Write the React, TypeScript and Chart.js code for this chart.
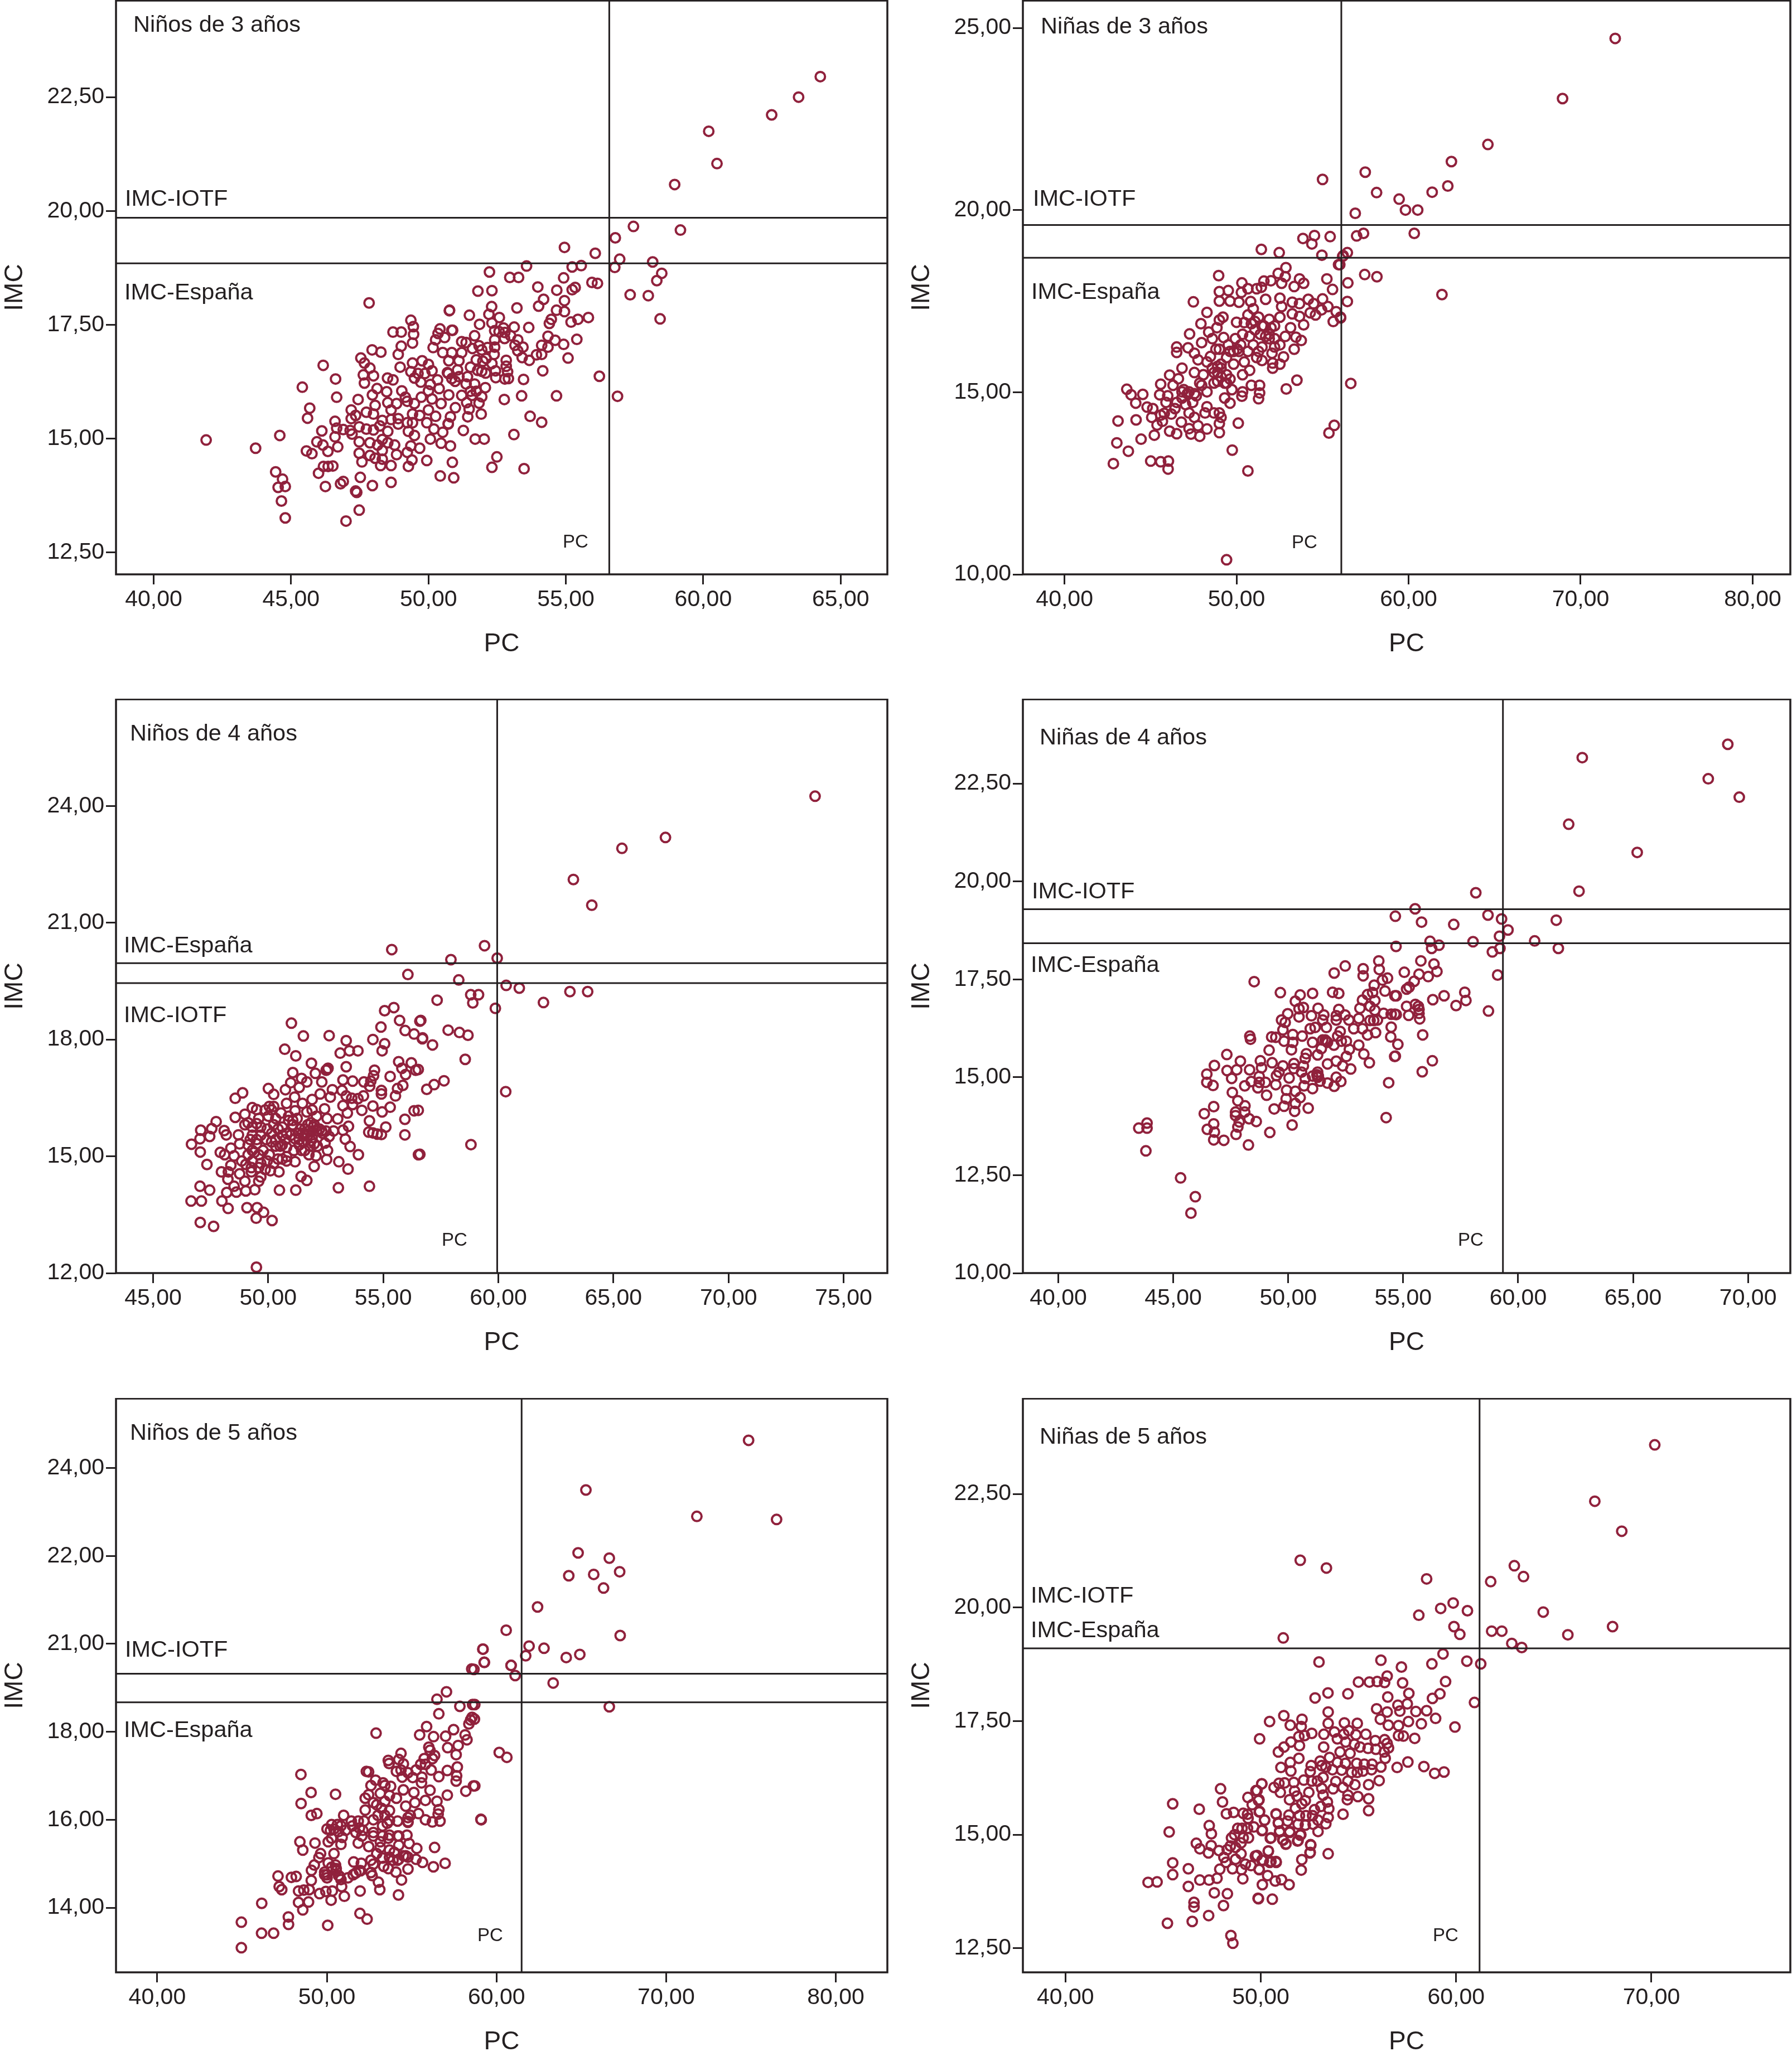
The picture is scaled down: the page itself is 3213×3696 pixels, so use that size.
import React, { useEffect, useRef } from "react";
import { Chart, registerables } from "chart.js";

Chart.register(...registerables);

const boys3: number[][] = [
[64.26,22.95],[63.47,22.5],[62.49,22.11],[60.2,21.75],[60.5,21.04],[58.96,20.58],[57.46,19.66],[59.17,19.58],[56.8,19.41],[56.07,19.07],[54.95,19.2],[56.96,18.94],[56.78,18.76],[58.16,18.88],[58.49,18.63],[58.31,18.47],[57.34,18.16],[58,18.14],[58.43,17.63],[55.56,18.8],[55.23,18.77],[53.57,18.79],[52.22,18.66],[52.96,18.54],[53.28,18.54],[54.92,18.53],[55.95,18.43],[56.15,18.41],[53.98,18.33],[54.67,18.26],[55.34,18.32],[55.23,18.27],[51.8,18.24],[52.31,18.25],[54.19,18.06],[54.01,17.91],[54.95,18.03],[52.3,17.9],[53.22,17.87],[50.77,17.82],[54.66,17.82],[54.95,17.79],[51.49,17.71],[52.2,17.73],[52.58,17.66],[54.47,17.62],[54.4,17.53],[55.19,17.56],[55.44,17.62],[55.82,17.66],[51.86,17.51],[52.31,17.54],[53.65,17.44],[53.12,17.45],[52.73,17.43],[50.88,17.38],[52.41,17.37],[52.57,17.35],[52.78,17.33],[51.68,17.26],[52.99,17.26],[54.35,17.25],[54.61,17.16],[55.4,17.18],[54.92,17.07],[53.25,17.17],[52.77,17.2],[52.41,17.17],[51.21,17.13],[51.37,17.11],[51.84,17.04],[53.15,17.05],[53.44,17.01],[54.12,17.05],[54.35,17.01],[52.41,17.01],[52.15,17],[51.6,16.98],[51.94,16.95],[53.25,16.93],[51.21,16.89],[50.85,16.89],[52.39,16.85],[53.93,16.84],[54.12,16.85],[53.41,16.78],[55.08,16.77],[53.67,16.72],[52.83,16.72],[52.1,16.76],[51.74,16.73],[51.98,16.7],[51.11,16.71],[50.74,16.71],[52.31,16.65],[52.83,16.59],[51.53,16.57],[51.06,16.51],[54.16,16.49],[52.44,16.49],[52.88,16.47],[51.79,16.5],[51.94,16.48],[52.08,16.44],[50.69,16.45],[56.22,16.37],[52.45,16.34],[52.78,16.31],[52.91,16.32],[53.46,16.3],[50.85,16.32],[51.11,16.36],[51.42,16.36],[50.97,16.26],[51.37,16.2],[51.68,16.2],[52.07,16.12],[51.53,16.04],[51.74,16.04],[50.74,15.96],[51.21,15.95],[51.58,15.95],[51.94,15.92],[52.76,15.86],[53.39,15.94],[54.66,15.94],[56.88,15.93],[51.39,15.79],[51.84,15.78],[50.98,15.68],[51.48,15.65],[51.92,15.54],[51.43,15.48],[50.8,15.48],[53.7,15.49],[54.12,15.36],[50.72,15.33],[51.27,15.18],[53.11,15.09],[51.7,14.99],[52.03,14.99],[50.8,14.84],[52.49,14.6],[50.87,14.48],[52.31,14.37],[53.48,14.34],[50.92,14.14],
[41.91,14.97],[43.71,14.79],[44.59,15.07],[44.44,14.27],[44.69,14.11],[44.53,13.93],[44.79,13.95],[44.65,13.63],[44.79,13.26],[45.41,16.13],[45.68,15.67],[45.6,15.45],[45.56,14.73],[45.76,14.67],[46.12,15.17],[45.94,14.93],[46.16,14.86],[46.34,14.72],[46,14.24],[46.18,14.39],[46.35,14.39],[46.52,14.4],[46.25,13.95],[46.8,14.01],[46.9,14.06],[47,13.19],[47.35,13.85],[47.39,13.82],[47.48,13.43],[47.52,14.15],[47.96,13.97],[48.64,14.04],[46.17,16.61],[46.62,16.31],[46.66,15.91],[46.6,15.38],[46.66,15.23],[46.6,15.04],[46.7,14.82],[46.9,15.2],[47.15,15.18],[47.22,15.1],[47.19,15.63],[47.19,15.44],[47.44,15.86],[47.35,15.51],[47.48,15.26],[47.48,14.93],[47.48,14.68],[47.58,14.49],[47.54,16.77],[47.67,16.66],[47.84,17.98],[47.95,16.95],[48.27,16.9],[47.63,16.4],[47.87,16.55],[48,16.38],[47.67,16.22],[47.96,15.96],[48.13,16.1],[48.51,16.33],[48.71,17.34],[49.01,17.34],[49.36,17.6],[49.45,17.46],[49.46,17.29],[49.01,17.03],[48.9,16.85],[49.42,17.1],[48.97,16.57],[48.71,16.29],[48.48,16.03],[49.03,16.05],[48.52,15.79],[48.84,15.77],[48.06,15.73],[47.74,15.58],[48,15.54],[48.64,15.63],[49.16,15.91],[48.32,15.4],[48.64,15.42],[48.9,15.44],[48.9,15.32],[47.74,15.21],[48,15.19],[48.23,15.28],[48.52,15.16],[47.87,14.91],[48.32,14.98],[48.52,14.91],[48.77,14.86],[48.15,14.86],[48.32,14.74],[47.87,14.63],[48.06,14.57],[48.32,14.55],[48.84,14.65],[48.26,14.41],[48.64,14.41],[49.23,14.7],[49.36,14.84],[49.68,14.79],[49.4,14.53],[49.27,14.39],[49.94,14.52],[50.07,14.99],[49.49,15.07],[49.27,15.16],[50.2,15.21],[50.52,15.14],[50.46,14.9],[50.43,14.18],[49.42,15.35],[49.23,15.35],[49.94,15.35],[49.42,15.54],[49.68,15.51],[50,15.63],[50.26,15.49],[50.72,15.32],[49.23,15.82],[49.49,15.77],[49.74,15.91],[50.13,15.87],[50.46,15.77],[49.42,16.66],[49.77,16.71],[50,16.63],[49.36,16.47],[49.62,16.43],[49.87,16.43],[50.13,16.49],[49.49,16.33],[49.72,16.24],[50.07,16.19],[50.33,16.29],[50,16.05],[50.39,16.1],[50.17,17],[50.26,17.17],[50.35,17.31],[50.42,17.41],[50.59,17.22],[50.52,16.89],[50.76,17.81],[50.72,16.43],[50.85,17.38]
];

const girls3: number[][] = [
[72.01,24.71],[68.95,23.06],[64.61,21.8],[62.49,21.33],[62.28,20.66],[61.37,20.49],[59.45,20.3],[59.82,20],[60.53,20],[57.48,21.04],[58.14,20.48],[56.9,19.91],[57.38,19.36],[56.98,19.29],[60.33,19.36],[56.44,18.83],[56.17,18.73],[56,18.5],[57.45,18.23],[58.16,18.17],[56.47,18],[56.44,17.49],[61.94,17.68],[56.05,17.04],[56.64,15.24],
[55,20.84],[42.84,13.04],[43.04,13.61],[43.71,13.38],[43.11,14.21],[43.62,15.08],[43.87,14.93],[44.14,14.7],[44.55,14.94],[44.16,14.24],[44.45,13.71],[45.01,13.11],[45.59,13.09],[46.04,13.11],[46.02,12.89],[45.22,13.82],[44.8,14.59],[45.13,14.55],[45.07,14.31],[45.38,14.1],[45.59,14.37],[45.8,14.42],[45.59,15.22],[46.11,15.47],[46.31,15.19],[45.53,14.93],[46,14.9],[45.9,14.72],[46.42,14.55],[46.21,14.4],[45.69,14.2],[46.11,13.93],[46.52,13.86],[46.79,14.18],[47.24,14],[47.35,13.85],[47.86,13.79],[48.28,13.99],[47.76,14.08],[47.55,14.31],[47.24,14.43],[47.04,14.66],[47.45,14.72],[46.83,14.84],[47.24,15.01],[47.66,14.9],[47.86,15.25],[48.28,15.01],[48.28,14.6],[48.17,14.43],[48.69,14.43],[49,14.43],[49.1,14.31],[49,14.14],[49,13.89],[50.1,14.15],[49.75,13.41],[50.66,12.84],[49.42,10.4],[46.93,15.07],[46.62,15.37],[46.83,15.66],[46.52,16.09],[46.52,16.24],[47.18,16.22],[47.27,16.6],[47.93,16.88],[47.49,17.48],[48.28,17.19],[47.55,16.07],[47.76,15.89],[48.28,15.83],[47.55,15.54],[48.07,15.48],[48.59,15.66],[48.9,15.54],[48.69,15.25],[49.42,15.48],[49.62,15.36],[49.31,15.25],[49.73,15.07],[49.31,14.84],[49.62,14.7],[50.35,15.01],[50.31,14.89],[50.86,15.19],[51.34,15.19],[51.34,14.98],[51.28,14.82],[52.89,15.09],[53.51,15.33],[55.68,14.09],[55.37,13.88],[47.97,16.36],[48.38,16.65],[48.59,16.47],[48.86,16.77],[49.21,17.06],[49,16.98],[48.48,15.98],[49,16.18],[49.25,16.5],[49.52,16.3],[49.42,15.95],[49.93,16.47],[50,16.92],[50.45,16.91],[50.86,16.88],[50.04,16.18],[50.45,15.83],[50.97,16.3],[50.76,16.53],[51.38,16.59],[51.48,16.24],[51.48,15.87],[50.76,15.6],[50.35,15.48],[52.1,15.66],[52.1,15.8],[52.52,15.77],[52.73,15.97],[52.06,16.07],[52.52,16.3],[53.35,16.18],[53.45,16.51],[53.76,16.42],[52.83,16.53],[52.21,16.47],[52,16.77],[53.14,16.77],[53.9,16.85],[53.66,17.08],[53.24,17.15],[52.52,17.06],[51.9,17],[51.28,17.06],[50.66,17.12],[50.97,17.29],[52.52,17.58],[52.62,17.35],[53.24,17.47],[53.66,17.43],[54.17,17.55],[54.48,17.43],[54.28,17.18],[54.59,17.12],[55,17.56],[54.94,17.26],[55.31,17.35],[55.79,17.21],[55.62,16.94],[56.04,17.06],[49,17.76],[49.52,17.79],[49,17.5],[49.62,17.5],[50.14,17.47],[50.31,18],[48.96,18.2],[50.28,17.74],[50.66,17.84],[51.17,17.84],[51.44,17.88],[50.82,17.49],[51.69,17.55],[51.59,18.05],[52,18.06],[52.62,17.99],[52.83,18.17],[52.42,18.26],[52.87,18.42],[53.35,17.9],[53.66,18.11],[53.9,17.99],[51.44,18.92],[52.48,18.83],[53.86,19.22],[54.38,19.07],[54.53,19.3],[55.44,19.27],[54.96,18.76],[55.93,18.5],[55.25,18.11],[55.58,17.82],[56.2,18.75],[49.83,16.12],[50.24,16.3],[50.66,16.12],[51.17,15.95],[51.9,16.47],[52.21,16.82],[51.48,16.82],[51.07,16.71],[48.8,16.18],[49.1,15.77],[48.9,15.3],
[48.9,15.71],[49.1,15.66],[48.69,15.54],[49.1,15.42],[49.42,15.25],[47.14,14.96],[47.55,14.96],[47.97,15.19],[46.83,15.01],[46.52,14.72],[49.62,16.12],[50.14,16.12],[50.35,16.59],[51.07,16.94],[51.59,16.82],[51.69,16.53],[51.28,16.12],[52.21,16.24],[51.9,16.59],[49.83,15.77]
];

const boys4: number[][] = [
[73.76,24.25],[67.26,23.19],[65.37,22.91],[63.26,22.11],[64.06,21.45],[59.4,20.41],[59.95,20.09],[57.94,20.05],[58.28,19.53],[60.34,19.39],[60.91,19.32],[63.11,19.23],[63.88,19.23],[61.96,18.95],[59.87,18.8],[58.8,19.15],[59.14,19.15],[58.89,18.94],[57.34,19.01],[56.63,18.49],[57.82,18.24],[58.31,18.18],[58.68,18.11],[56.71,18.04],[57.14,17.86],[58.56,17.49],[56.52,17.23],[57.64,16.94],[57.21,16.84],[56.89,16.72],[60.32,16.66],[56.52,16.18],[58.81,15.3],[56.59,15.05],
[56.07,19.67],[55.37,20.31],[55.46,18.82],[55.06,18.74],[54.9,18.32],[55.71,18.49],[56.59,18.47],[55.95,18.23],[56.34,18.14],[56.7,18.02],[51.01,18.42],[51.53,18.09],[52.65,18.1],[53.39,17.97],[54.55,18],[55.06,17.89],[54.95,17.71],[53.13,17.65],[53.53,17.71],[53.9,17.71],[50.72,17.75],[51.2,17.58],[51.88,17.39],[53.39,17.3],[51.07,17.15],[52.05,17.13],[52.56,17.23],[52.52,17.21],[52.6,17.26],[54.62,17.21],[54.58,17.07],[55.67,17.43],[56.22,17.4],[55.81,17.26],[56.41,17.21],[55.97,17.1],[55.3,17.05],[55.85,16.82],[55.62,16.74],[55.53,16.55],[54.92,16.69],[54.92,16.6],[54.41,16.8],[54.46,16.93],[54.14,16.55],[54.16,16.91],[53.67,16.93],[53.25,16.96],[53.21,16.69],[52.79,16.71],[52.7,16.52],[52.26,16.6],[51.91,16.46],[52.33,16.91],[51.68,16.91],[51.45,17],[50.98,16.89],[50.75,16.71],[51.35,16.77],[50.01,16.74],[50.24,16.59],[51.15,16.52],[51.49,16.36],[53.39,16.55],[53.63,16.49],[53.9,16.48],[53.67,16.33],[53.25,16.3],[54.55,16.29],[54.07,16.18],[54.95,16.14],[55.3,16.26],[56.34,16.17],[55.94,15.95],[54.4,15.91],[53.44,16.11],[53.02,15.96],[53.49,15.77],[53.25,15.67],[55.11,15.75],[54.37,15.62],[54.55,15.6],[54.74,15.57],[54.92,15.56],[55.94,15.55],[53.35,15.44],[53.56,15.25],[53.92,15.04],[56.53,15.04],[53.07,14.86],[53.47,14.67],[52.54,14.92],[52.58,15.15],[52,14.74],[52.08,15.01],[51.77,15.04],[51.17,14.86],[50.8,14.88],[50.47,14.6],[51.43,14.48],[51.68,14.38],[50.49,14.13],[51.2,14.13],[53.05,14.19],[54.4,14.23],
[46.67,15.31],[47.05,15.11],[47.07,15.67],[47.04,15.45],[47.46,15.51],[47.55,15.71],[47.74,15.89],[48.09,15.66],[48.18,15.55],[48.57,16.49],[48.89,16.63],[48.57,16],[48.99,16.08],[47.34,14.79],[47.92,15.1],[48.11,15.04],[48.38,15.21],[48.52,15.01],[48.76,15.32],[48.71,15.55],[47.97,14.6],[48.27,14.6],[48.38,14.77],[48.25,14.41],[48.76,14.55],[48.85,14.88],[49.03,14.79],[48.99,14.36],[49.27,14.6],[47.04,14.23],[47.46,14.13],[48.2,14.07],[48.52,14.23],[48.62,14.08],[49.03,14.11],[49.42,14.14],[49.59,14.36],[49.68,14.47],[46.65,13.85],[47.1,13.85],[47.99,13.85],[48.26,13.66],[49.08,13.68],[49.52,13.68],[49.8,13.56],[49.48,13.41],[50.17,13.35],[47.05,13.3],[47.63,13.2],[49.49,12.15],
[49.31,16.25],[49.5,16.2],[50.05,16.28],[50.24,16.28],[49.87,16.19],[49.13,15.86],[49.5,15.84],[48.99,15.81],[49.31,15.54],[49.13,15.29],[49.5,15.32],[49.31,15.15],[49.59,15.04],[49.31,14.88],[49.68,14.82],[50.05,15.04],[49.96,14.88],[50.24,14.82],[50.1,14.63],[50.61,14.93],[50.52,15.26],[50.8,15.23],[51.12,15.15],[50.33,15.43],[49.92,15.43],[49.96,15.7],[50.33,15.97],[50.56,16.11],[50.8,16.36],[51.17,16.17],[50.89,15.92],[51.07,15.81],[50.8,15.59],[51.31,15.59],[51.35,15.29],[51.59,15.54],[51.68,16.14],[51.91,16.19],[52.1,16.03],[52.45,16.22],[52.56,15.97],[52.84,15.65],[52.65,15.51],[52.33,15.65],[51.96,15.75],[51.77,15.65],[51.86,15.4],[52.14,15.26],[52.47,15.34],[51.59,15.15],[49.59,15.97],[50.43,15.7],[50.61,15.54],
[50.89,16.03],[51.07,15.92],[51.26,15.97],[51.4,15.7],[51.49,15.59],[51.59,15.7],[51.72,15.81],[51.86,15.86],[52,15.81],[52.1,15.65],[52.23,15.7],[52.37,15.59],[52.51,15.65],[51.72,15.54],[51.91,15.48],[52,15.32],[51.54,15.37],[51.35,15.43],[51.17,15.45],[50.98,15.54],[50.75,15.43],[50.61,15.29],[50.33,15.26],[50.15,15.37],[50.15,15.59],[49.68,15.54],[49.5,15.43],[49.22,15.43],[49.31,15.75],[49.68,15.75],[50.24,15.81],[50.61,15.75],[50.01,16.03],[50.15,16.19],[49.4,15.1],[49.78,15.15],[49.13,15.04],[49.59,14.71],[49.27,14.71],[49.87,14.66],[50.43,14.93],[50.8,14.99],[51.45,15.15],[51.82,15.26]
];

const girls4: number[][] = [
[69.12,23.5],[62.79,23.16],[68.27,22.62],[69.62,22.15],[62.2,21.46],[65.18,20.74],[62.65,19.75],[58.16,19.71],[55.52,19.3],[58.69,19.14],[59.28,19.04],[61.66,19.01],[55.8,18.96],[57.2,18.9],[59.56,18.76],[59.19,18.6],[56.17,18.47],[58.04,18.46],[60.72,18.48],[56.56,18.37],[56.24,18.29],[59.21,18.29],[58.88,18.2],[61.75,18.29],[54.66,19.11],[54.69,18.34],[55.77,17.97],[56.34,17.89],[56.47,17.7],[55.05,17.68],[55.69,17.63],[56.09,17.57],[55.48,17.45],[55.26,17.3],[55.15,17.25],[59.11,17.61],[57.68,17.17],[57.73,16.96],[56.78,17.08],[56.29,16.98],[57.3,16.83],[58.71,16.69],[54.7,17.08],[55.15,16.81],[55.53,16.86],[55.66,16.81],[55.69,16.73],[55.69,16.63],[55.72,16.49],[55.24,16.58],[54.7,16.6],[55.85,16.08],[54.77,15.84],[54.66,15.54],[56.27,15.42],[55.83,15.14],
[43.5,13.7],[43.86,13.83],[43.86,13.7],[43.81,13.12],[45.32,12.43],[45.96,11.95],[45.77,11.53],[48.52,17.44],[49.66,17.16],[52,17.66],[52.48,17.84],[53.26,17.77],[53.26,17.59],[53.94,17.97],[53.96,17.75],[50.52,17.1],[51.06,17.14],[51.93,17.17],[52.2,17.14],[50.31,16.94],[50.47,16.75],[50.66,16.78],[51.3,16.76],[52.2,16.73],[53.12,16.76],[53.23,16.97],[53.45,17.11],[53.67,17.16],[53.77,16.96],[53.74,17.35],[54.1,17.48],[54.32,17.53],[54.21,17.2],[54.64,17.08],[53.56,16.81],[53.77,16.71],[54.15,16.63],[54.48,16.61],[54.64,16.61],[53.56,16.45],[53.72,16.45],[53.88,16.46],[53.07,16.5],[52.64,16.46],[52.47,16.59],[52.09,16.57],[52.09,16.46],[51.55,16.59],[51.5,16.46],[51.01,16.57],[50.47,16.54],[49.98,16.62],[49.71,16.46],[49.87,16.4],[52.85,16.24],[53.23,16.24],[53.45,16.08],[53.8,16.14],[54.48,16.28],[54.46,16.03],[54.63,15.53],[53.07,15.82],[53.29,15.59],[53.53,15.37],[52.72,15.21],[52.66,15.71],[52.53,15.53],[52.37,15.29],[52.09,15.41],[52.53,15.92],[52.31,15.92],[51.99,15.82],[52.26,16.17],[52.15,16.05],[51.66,16.27],[51.17,16.27],[50.96,16.24],[50.61,16.05],[50.2,16.09],[49.77,16.21],[49.28,16.03],[49.46,16.02],[49.82,15.92],[50.2,15.89],[51.06,15.89],[51.5,15.95],[51.66,15.92],[51.44,15.73],[51.28,15.57],[50.79,15.6],[50.74,15.48],[50.14,15.7],[49.17,15.69],[48.33,16.05],[48.36,15.97],[47.33,15.58],[46.79,15.3],[47.92,15.41],[48.79,15.42],[49.3,15.37],[48.84,15.24],[48.32,15.19],[47.76,15.19],[47.34,15.17],[46.46,15.08],[46.46,14.87],[46.73,14.79],[47.54,14.97],[48.74,15.02],[48.39,14.89],[48.11,14.78],[48.74,14.87],[49.01,14.87],[48.68,14.73],[49.46,14.81],[49.49,15.04],[49.6,15.13],[49.77,15.29],[50.25,15.35],[50.25,15.22],[50.66,15.29],[50.58,15.13],[50.04,14.98],[50.74,14.97],[51.06,15.03],[51.28,15.13],[51.28,15],[51.39,14.9],[51.71,15.34],[51.71,14.85],[52.09,15],[52.29,14.89],[52,14.77],[51.06,14.71],[50.69,14.78],[49.06,14.54],[47.57,14.61],[49.93,14.67],[50.31,14.64],[50.52,14.48],[49.91,14.45],[50.31,14.33],[49.82,14.26],[50.28,14.13],[49.39,14.19],[50.87,14.21],[47.81,14.4],[46.76,14.25],[46.35,14.07],[48.12,14.27],[47.71,14.11],[48.11,14.11],[48.3,13.94],[48.61,13.87],[47.71,14.02],[47.87,13.86],[47.81,13.73],[47.73,13.54],[46.76,13.81],[46.48,13.67],[46.79,13.6],[46.76,13.4],[47.2,13.39],[48.27,13.27],[49.2,13.59],[50.17,13.78],[54.37,14.86],[54.26,13.97],[51.25,15.06],[51.31,15.03],[51.61,15.95],[51.71,15.89]
];

const boys5: number[][] = [
[74.86,24.63],[65.27,23.5],[71.81,22.9],[76.51,22.83],[64.81,22.07],[66.65,21.95],[64.26,21.55],[65.73,21.58],[67.26,21.64],[66.31,21.27],[62.42,20.84],[60.57,20.31],[67.29,20.19],[59.19,19.88],[61.92,19.95],[62.8,19.9],[64.91,19.76],[64.11,19.69],[61.72,19.73],[59.27,19.58],[60.86,19.51],[61.1,19.28],[58.67,19.42],[63.34,19.11],[66.65,18.57],[58.72,18.62],[58.7,18.29],[60.16,17.53],[60.61,17.42],[58.72,16.77],[59.08,16.01],
[44.96,13.09],[44.96,13.67],[46.15,13.42],[46.86,13.42],[46.16,14.1],[47.73,13.79],[47.74,13.62],[48.58,13.95],[47.12,14.72],[47.19,14.48],[47.34,14.41],[47.91,14.69],[48.19,14.71],[48.33,14.12],[48.92,14.13],[48.33,14.38],[48.64,14.4],[48.96,14.41],[49.08,14.62],[49.09,14.85],[49.26,14.97],[49.53,15.14],[49.63,15.23],[48.41,15.5],[48.58,15.31],[49.3,15.47],[48.47,17.03],[49.07,16.62],[48.48,16.37],[49.08,16.1],[49.41,16.14],[50.51,16.58],[52.9,17.97],[49.87,14.75],[50.01,14.75],[50.28,14.92],[50.51,14.97],[50.69,14.73],[50.83,14.64],[50.87,14.48],[50.05,13.6],[50.25,14.17],[51.03,14.26],[50.32,14.38],[49.94,14.37],[49.57,14.32],[51.96,14.38],[51.95,13.87],[52.37,13.74],[53.12,14.41],[53.04,14.58],[54.22,14.29],[54.4,14.63],[51.24,14.68],[51.55,14.75],[51.71,14.79],[51.99,14.84],[52.03,15.01],[51.58,15.04],[52.6,14.8],[52.67,14.73],[52.6,15.08],[52.74,14.99],[53.35,14.94],[53.62,14.89],[54.07,14.81],[54.78,14.88],[54.24,15.1],[54.65,15.18],[53.9,15.08],[53.28,15.13],[52.94,15.23],[53.69,15.31],[53.97,15.26],[55.26,15.1],[55.64,15.03],[56.28,14.93],[56.97,15.01],[55.3,15.35],[56.35,15.37],[54.85,15.46],[54.24,15.42],[54.72,15.65],[54.17,15.63],[53.62,15.58],[53.15,15.5],[52.47,15.39],[51.85,15.47],[50.83,15.44],[50.42,15.23],[50.08,15.5],[50.01,15.79],[50.28,15.89],[50.62,15.89],[50.9,15.6],[51.1,15.76],[50.99,16.1],[51.44,15.97],[51.85,15.97],[52.19,15.97],[51.71,15.71],[52.12,15.76],[52.74,15.71],[52.74,16],[52.26,16.22],[53.28,15.86],[53.56,15.92],[54.17,15.97],[54.78,16.05],[54.78,15.94],[55.4,16.14],[55.81,16],[56.22,15.95],[56.67,15.97],[56.56,16.13],[56.6,16.23],[56.49,16.42],[57.1,16.56],[58.19,16.65],[58.64,16.77],[59.1,16],[55.81,16.44],[55.19,16.39],[54.65,16.31],[53.69,16.21],[53.42,16.42],[52.74,16.39],[52.26,16.49],[52.46,16.57],[53.15,16.6],[53.42,16.78],[53.76,16.76],[53.31,16.84],[52.6,16.78],[52.87,16.9],[52.33,17.1],[52.46,17.09],[53.62,17.35],[53.67,17.28],[54.37,17.51],[54.24,17.37],[54.51,17.27],[54.1,17.1],[54.37,17.13],[54.44,16.97],[54.78,17.07],[55.06,16.96],[55.26,17.13],[55.6,16.97],[55.58,16.84],[54.51,16.68],[55.13,16.62],[54.1,16.49],[56.08,16.67],[55.81,17.26],[55.53,17.26],[55.74,17.39],[56.15,17.13],[56.6,16.98],[56.22,17.39],[56.35,17.46],[56.01,17.65],[56.08,17.58],[57.1,17.12],[57.65,17],[57.62,16.88],[57.69,17.2],[57.62,17.48],[57.74,17.69],[57.12,17.64],[56.29,17.89],[57,17.9],[57.47,18.05],[55.47,17.93],[55.88,18.12],[58.15,17.93],[58.26,17.82],[58.37,18.18],[58.47,18.27],[58.56,18.33],[56.6,18.41],[57.84,18.58],[58.59,18.62],[56.49,18.74],[57.05,18.91],[58.54,19.43],[59.29,19.58],[59.21,19.88],[60.86,19.51],[53.69,16.55],[52.94,16.34],[50.08,15.02],[50.55,14.84],
[49.87,14.81],[50.01,14.68],[50.28,15.58],[50.21,15.76],[50.42,15.79],[50.69,15.73],[50.83,15.86],[51.51,15.86],[51.92,15.81],[52.06,15.63],[52.74,15.63],[53.28,15.63],[53.69,15.65],[54.24,15.63],[53.15,15.37],[53.69,15.15],[54.17,15.08],[54.51,15.18],[54.78,15.15],[53.01,16.1],[53.42,16.1],[53.69,15.98],[53.22,16.26],[54.78,15.96],[54.92,16.1],[51.92,14.84],[50.55,14.89],[50.76,14.71]
];

const girls5: number[][] = [
[70.17,23.58],[67.1,22.34],[68.48,21.68],[52.02,21.04],[53.36,20.87],[62.98,20.92],[63.45,20.68],[58.49,20.63],[61.77,20.57],[58.09,19.83],[59.21,19.98],[59.85,20.1],[60.58,19.93],[64.46,19.9],[59.89,19.58],[60.19,19.41],[61.82,19.48],[62.34,19.48],[65.72,19.4],[68.01,19.58],[51.15,19.33],[62.85,19.21],[63.36,19.12],[59.33,18.98],[60.55,18.82],[61.26,18.76],[58.76,18.76],[57.2,18.69],[56.15,18.84],[52.98,18.8],[56.47,18.49],[55,18.36],[55.56,18.36],[55.96,18.37],[56.34,18.35],[57.26,18.34],[59.46,18.37],[53.44,18.12],[52.78,18.01],[54.46,18.1],[57.58,18.11],[59.17,18.1],[58.79,18],[56.5,18.03],[60.94,17.91],[57.02,17.85],[57.5,17.88],[55.93,17.77],[56.47,17.7],[57.12,17.72],[57.94,17.71],[58.49,17.73],[53.45,17.7],[58.95,17.56],[56.12,17.54],[51.18,17.62],[50.45,17.49],[52.11,17.54],[51.51,17.41],[52.07,17.38],[53.45,17.45],[54.28,17.46],[54.94,17.45],[57.56,17.49],[58.22,17.44],[59.94,17.37],[56.53,17.41],[57.05,17.4],[57.05,17.18],[57.3,17.17],[57.88,17.12],[49.94,17.11],[52.61,17.23],[53.23,17.21],[53.77,17.26],[52.24,17.18],[51.95,17.16],[54.25,17.21],[54.87,17.2],[55.38,17.21],[54.5,17.29],[53.92,17.11],[51.54,17.04],[51.98,16.96],[51.19,16.93],[50.9,16.82],[53.22,16.93],[54.35,17.04],[54.79,16.99],[55.08,16.93],[55.49,16.9],[55.86,17.07],[55.89,16.88],[56.34,17.09],[56.47,17.01],[56.54,16.91],[56.32,16.82],[54.06,16.82],[54.57,16.79],[56.37,16.68],[51.95,16.68],[53.52,16.7],[51.51,16.59],[51.03,16.48],[51.54,16.4],[56.98,16.48],[57.53,16.6],[58.35,16.5],[58.9,16.35],[59.38,16.38],[56.15,16.49],[55.7,16.55],[55.67,16.43],[55.3,16.55],[55.23,16.4],[54.94,16.37],[54.91,16.57],[54.65,16.37],[54.14,16.42],[54.33,16.57],[53.92,16.59],[53.67,16.43],[53.33,16.49],[53.04,16.62],[53.12,16.52],[52.58,16.52],[52.53,16.39],[56.06,16.19],[55.52,16.1],[54.82,16.1],[54.46,16.18],[53.84,16.17],[53.19,16.26],[52.9,16.18],[52.61,16.18],[52.2,16.2],[54.21,16.04],[53.7,16.01],[53.12,16.02],[52.46,15.93],[51.69,16.15],[51.22,16.14],[50.93,16.13],[50.68,16.04],[50.05,16.12],[49.81,15.97],[51,15.93],[51.73,15.96],[51.85,15.85],[51.47,15.77],[49.91,15.77],[54.46,15.87],[54.43,15.77],[54.97,15.84],[55.52,15.79],[55.52,15.53],[53.19,15.87],[53.41,15.72],[53.48,15.57],[53.07,15.62],[52.28,15.75],[52.1,15.68],[52.75,15.55],[51.77,15.58],[49.94,15.51],[50.78,15.46],[51.44,15.43],[51.98,15.42],[52.31,15.42],[52.65,15.42],[54.21,15.45],[53.45,15.38],[50.2,15.32],[50.9,15.27],[51.37,15.3],[51.91,15.23],[52.28,15.21],[52.68,15.23],[52.93,15.32],[53.33,15.24],[50.08,15.1],[50.97,15.08],[51.48,15.07],[52.93,15.07],[52.02,14.99],[50.52,14.93],[51.15,14.88],[51.91,14.87],[51.29,14.8],[52.56,14.77],[50.38,14.64],[52.53,14.61],[53.45,14.58],[52.1,14.45],[49.81,14.54],[50.13,14.43],[50.52,14.41],[50.78,14.41],[52.07,14.22],[49.91,14.24],
[51.45,13.9],[51.06,14.01],[50.74,13.98],[50.59,13.58],[50.35,14.1],[50.08,13.9],
[45.49,15.68],[45.31,15.06],[46.85,15.56],[47.94,16.01],[48.04,15.72],[44.23,13.95],[44.69,13.96],[45.49,14.38],[45.49,14.12],[46.29,14.25],[46.29,13.86],[46.88,14],[47.35,14],[47.76,14.04],[47.62,13.72],[48.29,13.7],[46.58,13.51],[46.58,13.41],[48.09,13.44],[45.22,13.05],[46.49,13.09],[47.33,13.22],[48.47,12.78],[48.57,12.61],[49.86,13.6],[49.88,13.59],[46.7,14.81],[46.88,14.69],[47.32,14.6],[47.46,14.76],[47.36,15.2],[47.47,15.02],[47.86,14.65],[48.11,14.5],[48.22,14.39],[47.9,14.24],[48.55,14.25],[49.08,14.03],[49.01,14.23],[49.5,14.32],[49.21,14.35],[48.71,14.46],[48.28,14.67],[48.44,14.75],[48.71,14.72],[48.99,14.58],[48.5,14.93],[48.66,15],[48.82,15.14],[49.04,15.14],[49.32,15.14],[49.64,15.17],[49.1,14.93],[49.37,14.93],[48.99,14.82],[48.24,15.46],[48.61,15.49],[49.1,15.47],[49.32,15.45],[49.35,15.36],[49.34,15.82],[49.56,15.66],[49.75,15.97],[49.92,15.5],[49.88,15.75],[50.05,16.12],[49.72,14.53],[49.92,14.23],[50.39,14.64],[50.06,14.44],[50.46,14.39],[50.79,14.39],[50.19,15.32],[50.06,15.09],[50.49,14.92],[50.79,15.45],[50.9,15.25],[50.96,15.06],[51.12,14.89],[51.28,14.79],[51.88,14.86],[51.48,15.05],[52.05,15],[52.55,14.78],[52.52,14.6]
];

const boys3XTicks = [40, 45, 50, 55, 60, 65];
const boys3YTicks = [12.5, 15, 17.5, 20, 22.5];
const girls3XTicks = [40, 50, 60, 70, 80];
const girls3YTicks = [10, 15, 20, 25];
const boys4XTicks = [45, 50, 55, 60, 65, 70, 75];
const boys4YTicks = [12, 15, 18, 21, 24];
const girls4XTicks = [40, 45, 50, 55, 60, 65, 70];
const girls4YTicks = [10, 12.5, 15, 17.5, 20, 22.5];
const boys5XTicks = [40, 50, 60, 70, 80];
const boys5YTicks = [14, 16, 18, 20, 22, 24];
const boys5YLabels = ["14,00", "16,00", "18,00", "21,00", "22,00", "24,00"];
const girls5XTicks = [40, 50, 60, 70];
const girls5YTicks = [12.5, 15, 17.5, 20, 22.5];

const INK = "#231f20";
const MARK = "#90213c";
const FONT = '"Liberation Sans", Arial, sans-serif';

type Note = { text: string; x: number; y: number; size?: number };
type Panel = {
  left: number; top: number; width: number; padRight: number;
  data: number[][]; xMin: number; xMax: number; yMin: number; yMax: number;
  xTicks: number[]; yTicks: number[]; yLabels?: string[];
  cut: number; lines: number[]; notes: Note[];
};

const fmt = (v: number) => v.toFixed(2).replace(".", ",");

const panels: Panel[] = [
  { left: 0, top: 0, width: 1600, padRight: 9, data: boys3, xMin: 38.63, xMax: 66.7, yMin: 12.02, yMax: 24.62, xTicks: boys3XTicks, yTicks: boys3YTicks, cut: 56.58, lines: [19.85, 18.85],
    notes: [{ text: "Niños de 3 años", x: 239, y: 46 }, { text: "IMC-IOTF", x: 224, y: 358 }, { text: "IMC-España", x: 223, y: 526 }, { text: "PC", x: 1009, y: 973, size: 33 }] },
  { left: 1626, top: 0, width: 1587, padRight: 3, data: girls3, xMin: 37.58, xMax: 82.19, yMin: 10, yMax: 25.75, xTicks: girls3XTicks, yTicks: girls3YTicks, cut: 56.09, lines: [19.59, 18.69],
    notes: [{ text: "Niñas de 3 años", x: 240, y: 49 }, { text: "IMC-IOTF", x: 226, y: 358 }, { text: "IMC-España", x: 223, y: 525 }, { text: "PC", x: 690, y: 974, size: 33 }] },
  { left: 0, top: 1253, width: 1600, padRight: 9, data: boys4, xMin: 43.39, xMax: 76.9, yMin: 12, yMax: 26.74, xTicks: boys4XTicks, yTicks: boys4YTicks, cut: 59.95, lines: [19.96, 19.45],
    notes: [{ text: "Niños de 4 años", x: 233, y: 64 }, { text: "IMC-España", x: 222, y: 444 }, { text: "IMC-IOTF", x: 222, y: 569 }, { text: "PC", x: 792, y: 972, size: 33 }] },
  { left: 1626, top: 1253, width: 1587, padRight: 3, data: girls4, xMin: 38.46, xMax: 71.84, yMin: 10, yMax: 24.65, xTicks: girls4XTicks, yTicks: girls4YTicks, cut: 59.34, lines: [19.29, 18.42],
    notes: [{ text: "Niñas de 4 años", x: 238, y: 71 }, { text: "IMC-IOTF", x: 224, y: 347 }, { text: "IMC-España", x: 222, y: 479 }, { text: "PC", x: 988, y: 972, size: 33 }] },
  { left: 0, top: 2507, width: 1600, padRight: 9, data: boys5, xMin: 37.57, xMax: 83.04, yMin: 12.53, yMax: 25.58, xTicks: boys5XTicks, yTicks: boys5YTicks, yLabels: boys5YLabels, cut: 61.48, lines: [19.32, 18.67],
    notes: [{ text: "Niños de 5 años", x: 233, y: 64 }, { text: "IMC-IOTF", x: 224, y: 453 }, { text: "IMC-España", x: 222, y: 597 }, { text: "PC", x: 856, y: 965, size: 33 }] },
  { left: 1626, top: 2507, width: 1587, padRight: 3, data: girls5, xMin: 37.82, xMax: 77.11, yMin: 11.97, yMax: 24.6, xTicks: girls5XTicks, yTicks: girls5YTicks, cut: 61.2, lines: [19.1],
    notes: [{ text: "Niñas de 5 años", x: 238, y: 71 }, { text: "IMC-IOTF", x: 222, y: 356 }, { text: "IMC-España", x: 222, y: 418 }, { text: "PC", x: 943, y: 965, size: 33 }] },
];

const noAutoPad = (s: any) => {
  s.paddingTop = 0;
  s.paddingBottom = 0;
  s.paddingLeft = 0;
  s.paddingRight = 0;
};

function PanelChart({ p }: { p: Panel }) {
  const ref = useRef<HTMLCanvasElement>(null);
  useEffect(() => {
    const lineStyle = { showLine: true, pointRadius: 0, borderColor: INK, borderWidth: 3, backgroundColor: INK };
    const datasets: any[] = [
      { ...lineStyle, data: [{ x: p.cut, y: p.yMin }, { x: p.cut, y: p.yMax }] },
      ...p.lines.map((v) => ({ ...lineStyle, data: [{ x: p.xMin, y: v }, { x: p.xMax, y: v }] })),
      {
        data: p.data.map(([x, y]) => ({ x, y })),
        showLine: false, pointRadius: 8.5, pointBorderWidth: 4,
        pointBorderColor: MARK, pointBackgroundColor: "rgba(0,0,0,0)",
      },
    ];
    const frame = {
      id: "frame",
      afterDraw(chart: any) {
        const { ctx, chartArea: a } = chart;
        ctx.save();
        ctx.strokeStyle = INK;
        ctx.lineWidth = 3.5;
        ctx.strokeRect(a.left, a.top, a.right - a.left, a.bottom - a.top);
        ctx.fillStyle = INK;
        ctx.textBaseline = "middle";
        ctx.textAlign = "left";
        for (const n of p.notes) {
          ctx.font = `${n.size ?? 41.5}px ${FONT}`;
          ctx.fillText(n.text, n.x, n.y);
        }
        ctx.restore();
      },
    };
    const axis = (title: string, values: number[], min: number, max: number, labels?: string[]) => ({
      type: "linear" as const,
      min, max,
      afterBuildTicks: (s: any) => { s.ticks = values.map((value) => ({ value })); },
      border: { display: false },
      grid: { drawOnChartArea: false, drawTicks: true, tickLength: 18, tickWidth: 3, tickColor: INK, color: INK, offset: false },
      ticks: {
        autoSkip: false, maxRotation: 0, minRotation: 0, padding: 3, color: INK,
        font: { family: FONT, size: 41 },
        callback: (v: number) => {
          const i = values.indexOf(v);
          return labels && i >= 0 ? labels[i] : fmt(v);
        },
      },
      title: { display: true, text: title, color: INK, padding: 0, font: { family: FONT, size: 46 } },
    });
    const chart = new Chart(ref.current!, {
      type: "scatter",
      data: { datasets },
      plugins: [frame],
      options: {
        animation: false,
        responsive: false,
        devicePixelRatio: 1,
        layout: { autoPadding: false, padding: { top: 1, right: p.padRight, left: 0, bottom: 0 } },
        plugins: { legend: { display: false }, tooltip: { enabled: false } },
        scales: {
          x: { ...axis("PC", p.xTicks, p.xMin, p.xMax), afterFit: (s: any) => { s.height = 153; noAutoPad(s); } },
          y: { ...axis("IMC", p.yTicks, p.yMin, p.yMax, p.yLabels), afterFit: (s: any) => { s.width = 208; noAutoPad(s); } },
        },
      } as any,
    });
    return () => chart.destroy();
  }, [p]);
  return (
    <canvas
      ref={ref}
      width={p.width}
      height={1183}
      style={{ position: "absolute", left: p.left, top: p.top, width: p.width, height: 1183 }}
    />
  );
}

export default function App() {
  return (
    <div style={{ position: "absolute", left: 0, top: 0, width: 3213, height: 3696, background: "#fff", overflow: "hidden" }}>
      {panels.map((p, i) => <PanelChart key={i} p={p} />)}
    </div>
  );
}
